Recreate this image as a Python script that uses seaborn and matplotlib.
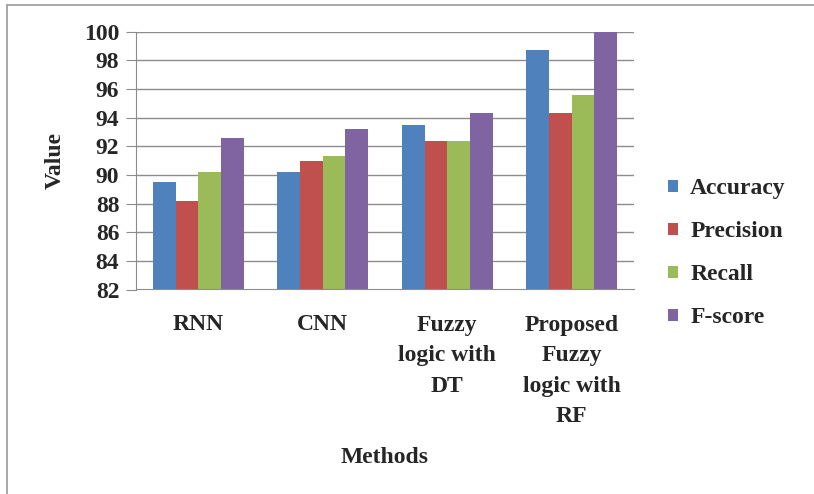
import pandas as pd
import matplotlib.pyplot as plt
import matplotlib.lines as mlines
import seaborn as sns

methods = ['RNN', 'CNN', 'Fuzzy logic with DT', 'Proposed Fuzzy logic with RF']
method_labels = ['RNN', 'CNN', 'Fuzzy\nlogic with\nDT', 'Proposed\nFuzzy\nlogic with\nRF']
metrics = ['Accuracy', 'Precision', 'Recall', 'F-score']

accuracy = [89.5, 90.2, 93.5, 98.7]
precision = [88.2, 91.0, 92.4, 94.3]
recall = [90.2, 91.3, 92.4, 95.6]
fscore = [92.6, 93.2, 94.3, 100.0]

colors = ['#4F81BD', '#C0504D', '#9BBB59', '#8064A2']

rows = []
for name, vals in zip(metrics, [accuracy, precision, recall, fscore]):
    for m, v in zip(methods, vals):
        rows.append({'Method': m, 'Metric': name, 'Value': v})
df = pd.DataFrame(rows)

sns.set_style('white')
plt.rcParams['font.family'] = ['Liberation Serif', 'DejaVu Serif']
plt.rcParams['font.weight'] = 'bold'

fs = 17
fig = plt.figure(figsize=(8.14, 4.94), dpi=100)
ax = fig.add_axes([136 / 814, 1 - 289.5 / 494, (634 - 136) / 814, (289.5 - 31.7) / 494])

sns.barplot(data=df, x='Method', y='Value', hue='Metric', palette=colors,
            width=0.73, gap=0, saturation=1, linewidth=0, ax=ax, legend=True)

ax.set_ylim(82, 100)
ax.set_yticks(range(82, 101, 2))
ax.yaxis.grid(True, color='#8c8c8c', linewidth=1)
ax.set_axisbelow(True)
for s in ['top', 'right']:
    ax.spines[s].set_visible(False)
ax.spines['left'].set_color('#8c8c8c')
ax.spines['bottom'].set_color('#8c8c8c')
ax.tick_params(axis='y', length=7, color='#8c8c8c', labelsize=fs, pad=5, left=True)
ax.tick_params(axis='x', length=0, labelsize=fs, pad=18)
ax.set_xticks(range(4))
ax.set_xticklabels(method_labels, linespacing=1.6, fontweight='bold', va='top')
for t in ax.get_yticklabels():
    t.set_fontweight('bold')

ax.set_xlabel('Methods', fontsize=fs, fontweight='bold', labelpad=14)
ax.set_ylabel('Value', fontsize=fs, fontweight='bold', labelpad=13)

ax.legend(title=None, frameon=False, loc='center left', bbox_to_anchor=(1.025, 0.14),
          prop={'size': fs, 'weight': 'bold'}, handlelength=0.45, handleheight=0.45,
          handletextpad=0.5, labelspacing=0.93)

# thin frame like the original picture
fig.add_artist(mlines.Line2D([7 / 814, 7 / 814], [0, 1 - 5 / 494], color='#9a9a9a', lw=1.2, transform=fig.transFigure))
fig.add_artist(mlines.Line2D([7 / 814, 1], [1 - 5 / 494, 1 - 5 / 494], color='#9a9a9a', lw=1.2, transform=fig.transFigure))

fig.savefig('out.png', dpi=100)
